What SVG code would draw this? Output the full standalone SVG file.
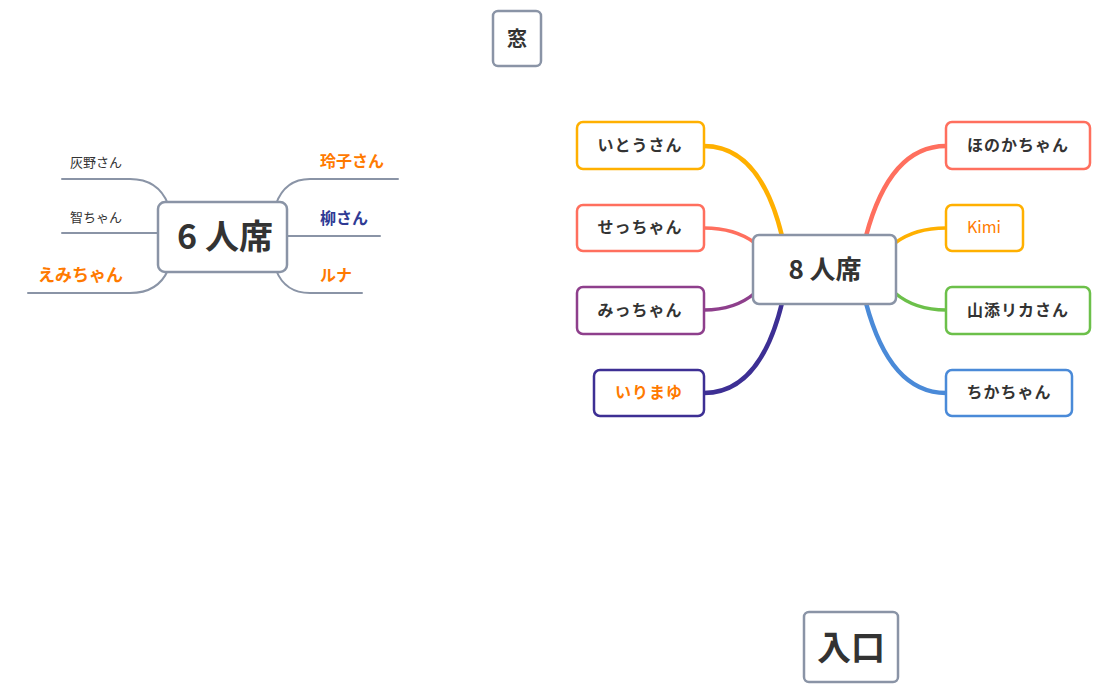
<svg xmlns="http://www.w3.org/2000/svg" width="1119" height="693" viewBox="0 0 1119 693">
<style>
text{font-family:"Noto Sans CJK JP","Noto Sans",sans-serif;fill:#333;font-weight:bold}
text.r{font-weight:normal}
.n{fill:#fff;stroke-width:2.5}
.c{fill:none;stroke-linecap:round}
.g{stroke:#8a94a6;stroke-width:2}
.o{fill:#ff7a00}
</style>
<rect width="1119" height="693" fill="#fff"/>
<g id="connectors">
<path class="c g" d="M62 179H130Q158 179 168 204"/>
<path class="c g" d="M62 233H158"/>
<path class="c g" d="M28 293H130Q158 293 168 270"/>
<path class="c g" d="M398 179H310Q285 179 276 204"/>
<path class="c g" d="M287 236H380"/>
<path class="c g" d="M362 293H310Q285 293 276 270"/>
<path class="c" stroke="#ffb000" stroke-width="4.5" d="M704 146Q760 146 782 236"/>
<path class="c" stroke="#ff6f5e" stroke-width="3.5" d="M704 228Q735 228 755 243"/>
<path class="c" stroke="#8e3f8c" stroke-width="3.5" d="M704 310Q735 310 755 293"/>
<path class="c" stroke="#3d2f94" stroke-width="4.5" d="M704 393Q760 393 782 303"/>
<path class="c" stroke="#ff6f5e" stroke-width="4.5" d="M946 146Q890 146 866 236"/>
<path class="c" stroke="#ffb000" stroke-width="3.5" d="M946 228Q915 228 895 243"/>
<path class="c" stroke="#6cc04a" stroke-width="3.5" d="M946 310Q915 310 895 293"/>
<path class="c" stroke="#4a8ad8" stroke-width="4.5" d="M946 393Q890 393 866 303"/>
</g>
<g id="window"><rect class="n" x="493" y="11" width="48" height="55" rx="5" stroke="#8a94a6" stroke-width="2"/><text x="517" y="46" font-size="20" text-anchor="middle">窓</text></g>
<g id="entrance"><rect class="n" x="804" y="612" width="94" height="70" rx="5" stroke="#8a94a6" stroke-width="2"/><text x="851" y="660" font-size="34" text-anchor="middle">入口</text></g>
<g id="t6"><rect class="n" x="158" y="202" width="129" height="70" rx="7" stroke="#8a94a6" stroke-width="2"/><text x="225" y="249" font-size="34" text-anchor="middle">6 人席</text></g>
<g id="haino"><text class="r" x="70" y="167" font-size="13">灰野さん</text></g>
<g id="tomo"><text class="r" x="70" y="222" font-size="13">智ちゃん</text></g>
<g id="emi"><text class="o" x="38" y="281" font-size="17">えみちゃん</text></g>
<g id="reiko"><text class="o" x="320" y="167" font-size="16">玲子さん</text></g>
<g id="yanagi"><text x="320" y="224" font-size="16" style="fill:#2e3a94">柳さん</text></g>
<g id="runa"><text class="o" x="320" y="281" font-size="16">ルナ</text></g>
<g id="t8"><rect class="n" x="753" y="235" width="143" height="69" rx="6" stroke="#8a94a6" stroke-width="2.5"/><text x="825" y="279" font-size="26" text-anchor="middle">8 人席</text></g>
<g id="ito"><rect class="n" x="577" y="122" width="127" height="47" rx="6" stroke="#ffb000"/><text x="640" y="151" font-size="16" text-anchor="middle" letter-spacing="1">いとうさん</text></g>
<g id="secchan"><rect class="n" x="577" y="205" width="127" height="46" rx="6" stroke="#ff6f5e"/><text x="640" y="233" font-size="16" text-anchor="middle" letter-spacing="1">せっちゃん</text></g>
<g id="micchan"><rect class="n" x="577" y="287" width="127" height="47" rx="6" stroke="#8e3f8c"/><text x="640" y="316" font-size="16" text-anchor="middle" letter-spacing="1">みっちゃん</text></g>
<g id="irimayu"><rect class="n" x="594" y="370" width="110" height="46" rx="6" stroke="#3d2f94"/><text class="o" x="649" y="398" font-size="16" text-anchor="middle" letter-spacing="1">いりまゆ</text></g>
<g id="honoka"><rect class="n" x="946" y="122" width="144" height="47" rx="6" stroke="#ff6f5e"/><text x="1018" y="151" font-size="16" text-anchor="middle" letter-spacing="1">ほのかちゃん</text></g>
<g id="kimi"><rect class="n" x="946" y="205" width="77" height="46" rx="6" stroke="#ffb000"/><text class="r" x="984" y="233" font-size="16" text-anchor="middle" style="fill:#ff7a00">Kimi</text></g>
<g id="yamazoe"><rect class="n" x="946" y="287" width="144" height="47" rx="6" stroke="#6cc04a"/><text x="1018" y="316" font-size="16" text-anchor="middle" letter-spacing="1">山添リカさん</text></g>
<g id="chika"><rect class="n" x="946" y="370" width="126" height="46" rx="6" stroke="#4a8ad8"/><text x="1009" y="398" font-size="16" text-anchor="middle" letter-spacing="1">ちかちゃん</text></g>
</svg>
